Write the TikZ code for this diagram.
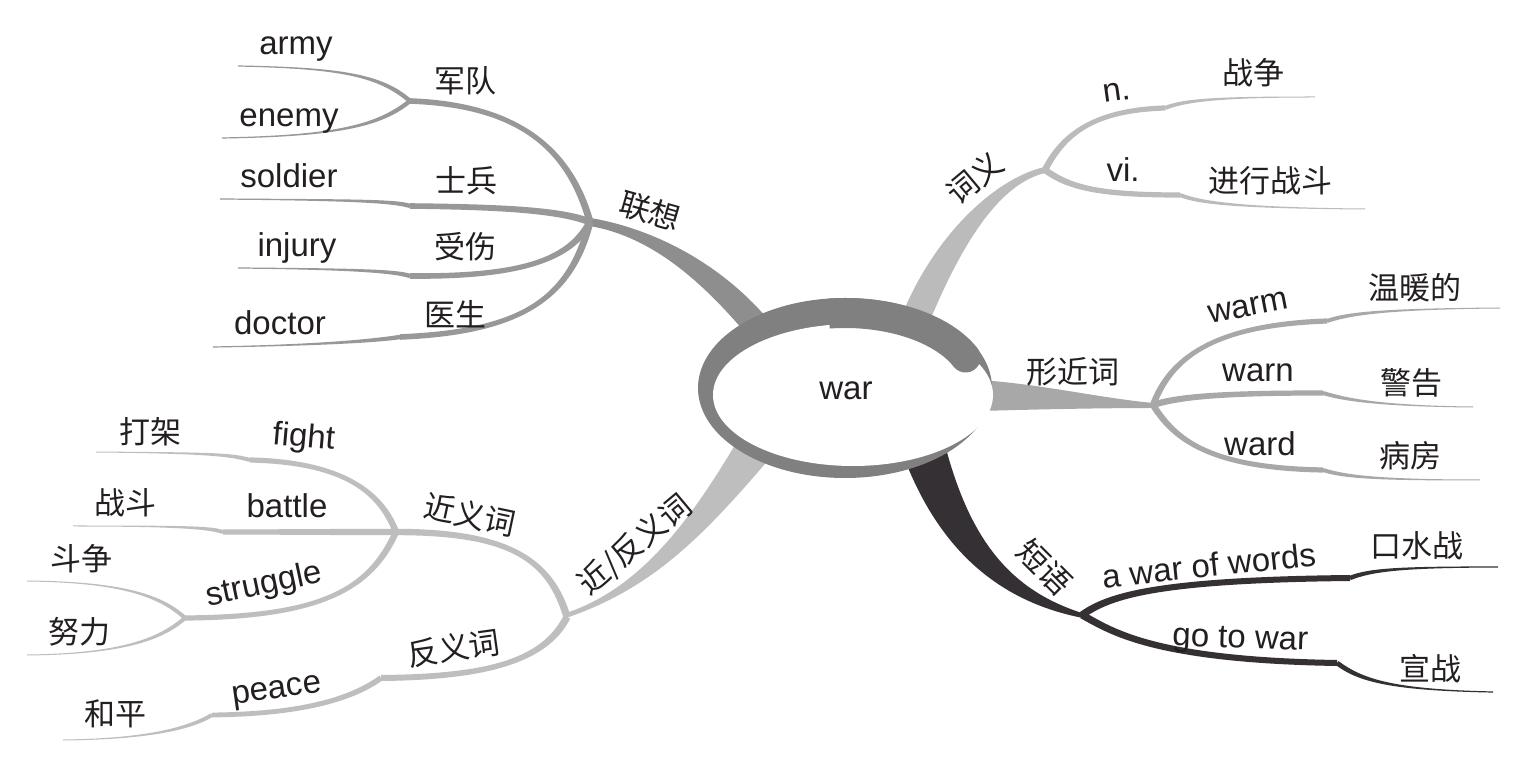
\documentclass[tikz,border=0pt]{standalone}
\usepackage{fontspec}
\setmainfont{Liberation Sans}
\newfontfamily\cjk{Noto Sans CJK SC}
\usetikzlibrary{calc}
\definecolor{lx}{RGB}{152,152,152}
\definecolor{lxt}{RGB}{142,142,142}
\definecolor{cy}{RGB}{187,187,187}
\definecolor{xj}{RGB}{168,168,168}
\definecolor{dy}{RGB}{52,48,52}
\definecolor{jf}{RGB}{190,190,190}
\definecolor{ring}{RGB}{128,128,128}
\definecolor{txt}{RGB}{35,31,32}
% tapered branch: #1 colour, #2/#3 half widths at start/end, #4 start, #5,#6 controls, #7 end
\newcommand\tseg[7]{\fill[#1] ($#4!#2!90:#5$) .. controls ($#5!#2!-90:#4$) and ($#6!#3!90:#7$) .. ($#7!#3!-90:#6$) -- ($#7!#3!90:#6$) .. controls ($#6!#3!-90:#7$) and ($#5!#2!90:#4$) .. ($#4!#2!-90:#5$) -- cycle;}
\tikzset{
  en/.style={font=\fontsize{16.5}{18}\selectfont, text=txt, inner sep=0pt, anchor=base},
  zh/.style={font=\cjk\fontsize{15.5}{18}\selectfont, text=txt, inner sep=0pt},
}
\begin{document}
\begin{tikzpicture}[x=0.5pt,y=-0.5pt]
\fill[white] (0,0) rectangle (1538,758);
\useasboundingbox (0,0) rectangle (1538,758);

% hubs and junctions
\coordinate (hLX) at (590,222);
\coordinate (jJD) at (410,101);
\coordinate (jSB) at (410,206);
\coordinate (jSS) at (410,276);
\coordinate (jYS) at (400,337);
\coordinate (hCY) at (1045,170);
\coordinate (jN) at (1165,108);
\coordinate (jVI) at (1180,195);
\coordinate (hXJ) at (1153,405);
\coordinate (jWM) at (1327,321);
\coordinate (jWN) at (1323,393);
\coordinate (jWD) at (1323,470);
\coordinate (hDY) at (1082,615);
\coordinate (jAW) at (1350,578);
\coordinate (jGW) at (1337,663);
\coordinate (hJF) at (567,617);
\coordinate (hJY) at (396,532);
\coordinate (jFT) at (250,460);
\coordinate (jBT) at (223,532);
\coordinate (jST) at (185,618);
\coordinate (jFY) at (381,678);
\coordinate (jPC) at (212,715);
\coordinate (cW) at (845,388);

% main trunks (drawn beneath the centre)
\tseg{lxt}{2pt}{6.5pt}{(hLX)}{(650,232)}{(710,270)}{(760,330)}
\tseg{cy}{1.5pt}{7pt}{(hCY)}{(1000,180)}{(950,235)}{(915,320)}
\fill[xj] (1153,403) .. controls (1100,398) and (1040,384) .. (980,380) -- (980,411) .. controls (1050,409) and (1110,408) .. (1153,408) -- cycle;
\fill[dy] (903,455) .. controls (935,540) and (990,600) .. (1083,618) -- (1082,613) .. controls (1010,590) and (970,540) .. (945,445) -- cycle;
\fill[jf] (563,619) .. controls (650,590) and (700,540) .. (770,458) -- (735,445) .. controls (690,520) and (640,590) .. (563,614) -- cycle;

% centre
\fill[ring] (cW) ellipse [x radius=73.5pt, y radius=45pt];
\fill[white] (853,395) ellipse [x radius=70pt, y radius=35.5pt];
\draw[ring, line width=15pt] ($(cW)+(97:66pt and 37.5pt)$) arc [start angle=97, end angle=24, x radius=66pt, y radius=37.5pt];
\fill[ring] ($(cW)+(24:66pt and 37.5pt)$) circle [radius=7.5pt];
\node[en] (war) at (846,400) {war};

% 联想
\tseg{lx}{1.75pt}{1.4pt}{(hLX)}{(570,150)}{(520,105)}{(jJD)}
\tseg{lx}{1.1pt}{0.3pt}{(jJD)}{(380,75)}{(340,68)}{(238,66)}
\tseg{lx}{1.1pt}{0.3pt}{(jJD)}{(380,125)}{(340,136)}{(222,138)}
\tseg{lx}{1.75pt}{1.4pt}{(hLX)}{(560,210)}{(500,207)}{(jSB)}
\tseg{lx}{1.1pt}{0.3pt}{(jSB)}{(395,201)}{(350,200)}{(220,199)}
\tseg{lx}{1.75pt}{1.4pt}{(hLX)}{(570,260)}{(520,277)}{(jSS)}
\tseg{lx}{1.1pt}{0.3pt}{(jSS)}{(395,271)}{(350,269)}{(238,268)}
\tseg{lx}{1.75pt}{1.4pt}{(hLX)}{(570,300)}{(520,332)}{(jYS)}
\tseg{lx}{1.1pt}{0.3pt}{(jYS)}{(380,340)}{(330,345)}{(213,347)}

% 词义
\tseg{cy}{1.6pt}{1.3pt}{(hCY)}{(1065,130)}{(1100,110)}{(jN)}
\tseg{cy}{1pt}{0.25pt}{(jN)}{(1185,100)}{(1220,97)}{(1315,97)}
\tseg{cy}{1.6pt}{1.3pt}{(hCY)}{(1070,188)}{(1100,195)}{(jVI)}
\tseg{cy}{1pt}{0.25pt}{(jVI)}{(1200,203)}{(1240,208)}{(1365,209)}

% 形近词
\tseg{xj}{1.6pt}{1.3pt}{(hXJ)}{(1170,360)}{(1210,325)}{(jWM)}
\tseg{xj}{1pt}{0.25pt}{(jWM)}{(1350,313)}{(1390,309)}{(1500,308)}
\tseg{xj}{1.6pt}{1.3pt}{(hXJ)}{(1180,396)}{(1230,393)}{(jWN)}
\tseg{xj}{1pt}{0.25pt}{(jWN)}{(1340,398)}{(1370,406)}{(1473,407)}
\tseg{xj}{1.6pt}{1.3pt}{(hXJ)}{(1175,440)}{(1210,468)}{(jWD)}
\tseg{xj}{1pt}{0.25pt}{(jWD)}{(1345,477)}{(1380,480)}{(1480,480)}

% 短语
\tseg{dy}{1.8pt}{1.5pt}{(hDY)}{(1110,595)}{(1160,580)}{(jAW)}
\tseg{dy}{1.1pt}{0.3pt}{(jAW)}{(1370,570)}{(1400,567)}{(1498,567)}
\tseg{dy}{1.8pt}{1.5pt}{(hDY)}{(1110,630)}{(1150,660)}{(jGW)}
\tseg{dy}{1.2pt}{0.3pt}{(jGW)}{(1360,680)}{(1390,690)}{(1493,692)}

% 近/反义词
\tseg{jf}{1.8pt}{1.6pt}{(hJF)}{(550,560)}{(510,532)}{(hJY)}
\tseg{jf}{1.6pt}{1.3pt}{(hJY)}{(380,490)}{(340,462)}{(jFT)}
\tseg{jf}{1pt}{0.25pt}{(jFT)}{(230,454)}{(200,453)}{(96,452)}
\tseg{jf}{1.6pt}{1.3pt}{(hJY)}{(340,532)}{(280,532)}{(jBT)}
\tseg{jf}{1pt}{0.25pt}{(jBT)}{(210,528)}{(190,526)}{(73,526)}
\tseg{jf}{1.6pt}{1.3pt}{(hJY)}{(370,590)}{(320,617)}{(jST)}
\tseg{jf}{1pt}{0.25pt}{(jST)}{(160,595)}{(120,582)}{(27,581)}
\tseg{jf}{1pt}{0.25pt}{(jST)}{(160,640)}{(120,654)}{(27,655)}
\tseg{jf}{1.8pt}{1.5pt}{(hJF)}{(545,660)}{(490,677)}{(jFY)}
\tseg{jf}{1.4pt}{1.2pt}{(jFY)}{(350,700)}{(300,714)}{(jPC)}
\tseg{jf}{1pt}{0.25pt}{(jPC)}{(190,728)}{(150,739)}{(63,740)}

% labels: 联想
\node[zh, rotate=-16] (lLX) at (650,211) {联想};
\node[zh] (lJD) at (465,81) {军队};
\node[en] (lArmy) at (296,55) {army};
\node[en] (lEnemy) at (289,127) {enemy};
\node[zh] (lSB) at (466,181) {士兵};
\node[en] (lSoldier) at (289,188) {soldier};
\node[zh] (lSS) at (465,247) {受伤};
\node[en] (lInjury) at (297,257) {injury};
\node[zh] (lYS) at (455,314) {医生};
\node[en] (lDoctor) at (280,335) {doctor};

% labels: 词义
\node[zh, rotate=40] (lCY) at (975,178) {词义};
\node[en, rotate=8] (lN) at (1118,101) {n.};
\node[zh] (lZZ) at (1253,73) {战争};
\node[en] (lVI) at (1123,182) {vi.};
\node[zh] (lJX) at (1270,181) {进行战斗};

% labels: 形近词
\node[zh] (lXJ) at (1073,372) {形近词};
\node[en, rotate=11] (lWarm) at (1250,316) {warm};
\node[zh] (lWN) at (1415,288) {温暖的};
\node[en] (lWarn) at (1258,382) {warn};
\node[zh] (lJG) at (1411,383) {警告};
\node[en] (lWard) at (1260,456) {ward};
\node[zh] (lBF) at (1410,456) {病房};

% labels: 短语
\node[zh, rotate=-45] (lDY) at (1045,567) {短语};
\node[en, rotate=6] (lAW) at (1210,577) {a war of words};
\node[zh] (lKS) at (1417,546) {口水战};
\node[en, rotate=-2] (lGW) at (1240,648) {go to war};
\node[zh] (lXZ) at (1430,669) {宣战};

% labels: 近/反义词
\node[zh, rotate=40] (lJF) at (635,545) {近/反义词};
\node[zh, rotate=-12] (lJY) at (470,515) {近义词};
\node[en, rotate=-5] (lFight) at (303,447) {fight};
\node[zh] (lDJ) at (150,432) {打架};
\node[en] (lBattle) at (287,518) {battle};
\node[zh] (lZD) at (125,503) {战斗};
\node[en, rotate=12] (lStruggle) at (266,594) {struggle};
\node[zh] (lDZ) at (81,559) {斗争};
\node[zh] (lNL) at (79,632) {努力};
\node[zh, rotate=8] (lFY) at (454,648) {反义词};
\node[en, rotate=8] (lPeace) at (278,698) {peace};
\node[zh] (lHP) at (115,714) {和平};
\end{tikzpicture}
\end{document}
